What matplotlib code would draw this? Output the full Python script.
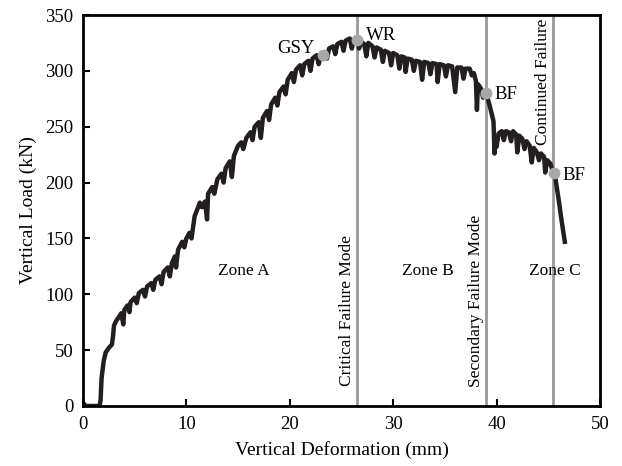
import matplotlib
matplotlib.use("Agg")
import matplotlib.pyplot as plt

plt.rcParams['font.family'] = ['Liberation Serif', 'DejaVu Serif']

# load-deformation curve (mm, kN)
deform = [0.0, 0.1, 0.2, 1.6,
          1.7, 1.8, 2.0, 2.2, 2.5, 2.8, 2.9, 3.0, 3.2, 3.5, 3.7, 3.9, 4.0, 4.3, 4.5, 4.6,
          5.0, 5.2, 5.4, 5.8, 6.0, 6.2, 6.6, 6.8, 7.0, 7.4, 7.6, 7.8, 8.2, 8.4, 8.6, 8.9,
          9.0, 9.2, 9.6, 9.8, 10.0, 10.3, 10.5, 10.8, 11.1, 11.3, 11.5, 11.8, 12.0, 12.1,
          12.5, 12.7, 13.0, 13.4, 13.6, 13.8, 14.2, 14.4, 14.6, 15.0, 15.3, 15.5, 15.8,
          16.2, 16.4, 16.6, 17.0, 17.2, 17.4, 17.8, 18.0, 18.2, 18.6, 18.8, 19.0, 19.4,
          19.6, 19.8, 20.2, 20.4, 20.6, 21.0, 21.2, 21.4, 21.8, 22.0, 22.2, 22.6, 22.8,
          23.0, 23.4, 23.6, 23.8, 24.2, 24.4, 24.6, 25.0, 25.2, 25.4, 25.8, 26.0, 26.2,
          26.5, 26.7, 26.9, 27.2, 27.4, 27.6, 28.0, 28.2, 28.4, 28.8, 29.0, 29.2, 29.6,
          29.8, 30.0, 30.4, 30.6, 30.8, 31.1, 31.2, 31.4, 31.8, 32.0, 32.2, 32.6, 32.8,
          33.0, 33.4, 33.6, 33.8, 34.2, 34.3, 34.5, 34.9, 35.1, 35.3, 35.7, 36.0, 36.2,
          36.6, 36.8, 37.0, 37.4, 37.6, 37.8, 38.0, 38.1, 38.2, 38.5, 38.7, 39.0, 39.3,
          39.7, 39.8, 39.9, 40.0, 40.2, 40.5, 40.7, 40.9, 41.2, 41.4, 41.6, 41.9, 42.0,
          42.2, 42.5, 42.7, 42.9, 43.2, 43.4, 43.6, 43.9, 44.1, 44.3, 44.6, 44.7, 44.9,
          45.2, 45.4, 45.6, 46.0, 46.3, 46.6]
load = [0, 2, 0, 0,
        5, 25, 40, 48, 52, 55, 62, 72, 76, 80, 83, 73, 86, 90, 84, 93,
        97, 92, 101, 104, 98, 107, 110, 104, 113, 116, 109, 120, 124, 116, 128, 134,
        124, 140, 147, 142, 150, 155, 150, 170, 177, 182, 178, 183, 167, 190,
        196, 190, 203, 208, 200, 213, 219, 205, 224, 233, 236, 230, 240,
        245, 238, 250, 254, 240, 258, 264, 256, 270, 276, 269, 281, 286,
        279, 292, 298, 290, 301, 305, 296, 306, 309, 300, 311, 314, 306,
        314, 316, 311, 320, 322, 315, 324, 326, 318, 327, 329, 320, 328,
        328, 320, 326, 324, 313, 325, 322, 312, 321, 319, 308, 318, 316,
        305, 316, 314, 302, 313, 312, 299, 311, 310, 300, 309, 308, 292,
        308, 307, 297, 307, 306, 290, 306, 305, 295, 305, 304, 281, 303,
        303, 293, 302, 302, 296, 298, 291, 265, 288, 284, 276, 280, 270,
        255, 226, 240, 232, 244, 246, 238, 246, 245, 237, 246, 243, 227,
        242, 239, 230, 237, 233, 218, 231, 227, 220, 226, 223, 209, 220,
        217, 211, 209, 185, 165, 147]

# failure mode boundaries (mm)
mode_x = [26.5, 39.0, 45.5]
mode_labels = ["Critical Failure Mode", "Secondary Failure Mode", "Continued Failure"]

# marked points
pt_names = ["GSY", "WR", "BF", "BF"]
pt_x = [23.2, 26.5, 39.0, 45.6]
pt_y = [314, 328, 280, 209]

zones = ["Zone A", "Zone B", "Zone C"]
zone_x = [15.6, 33.4, 45.6]
zone_y = 121

fig = plt.figure(figsize=(6.22, 4.66), dpi=100)
ax = fig.add_axes([0.1334, 0.1288, 0.8312, 0.839])

for xv in mode_x:
    ax.plot([xv, xv], [0, 350], color="#999999", lw=2, zorder=1)

ax.plot(deform, load, color="#231f20", lw=3.2, zorder=2, solid_joinstyle="round")
ax.plot(pt_x, pt_y, "o", color="#a8a8a8", ms=8.5, mec="none", zorder=3)

# point labels
ax.text(22.4, 320, "GSY", fontsize=13.5, ha="right", va="center")
ax.text(27.4, 332, "WR", fontsize=13.5, ha="left", va="center")
ax.text(39.8, 279, "BF", fontsize=13.5, ha="left", va="center")
ax.text(46.4, 206, "BF", fontsize=13.5, ha="left", va="center")

# mode labels, rotated along the boundary lines
ax.text(26.3, 18, mode_labels[0], rotation=90, fontsize=12.5, ha="right", va="bottom")
ax.text(38.8, 17, mode_labels[1], rotation=90, fontsize=12.5, ha="right", va="bottom")
ax.text(45.3, 347, mode_labels[2], rotation=90, fontsize=12.5, ha="right", va="top")

for name, zx in zip(zones, zone_x):
    ax.text(zx, zone_y, name, fontsize=12.5, ha="center", va="center")

ax.set_xlim(0, 50)
ax.set_ylim(0, 350)
ax.set_xticks([0, 10, 20, 30, 40, 50])
ax.set_yticks(range(0, 351, 50))
ax.tick_params(direction="in", length=5, width=1.5, labelsize=13.5, pad=7)
for sp in ax.spines.values():
    sp.set_linewidth(2)

ax.set_xlabel("Vertical Deformation (mm)", fontsize=14, labelpad=6)
ax.set_ylabel("Vertical Load (kN)", fontsize=14, labelpad=6)

fig.savefig("out.png", dpi=100)
